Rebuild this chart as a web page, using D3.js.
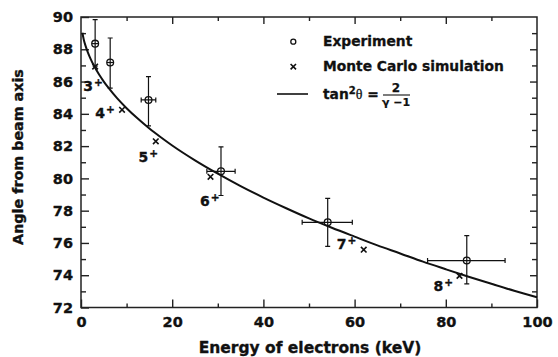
<!DOCTYPE html>
<html>
<head>
<meta charset="utf-8">
<script src="https://cdn.jsdelivr.net/npm/d3@7"></script>
<style>
  body { margin: 0; background: #fff; }
  svg { display: block; }
</style>
</head>
<body>
<svg id="chart" width="558" height="357"></svg>
<script>
/* Experiment: angle vs electron energy, with error ranges */
const expEnergy = [3.1, 6.4, 14.8, 30.7, 54.1, 84.6]
const expEnergyLo = [2.4, 5.7, 13.2, 27.6, 48.5, 76.0]
const expEnergyHi = [3.8, 7.1, 16.4, 33.8, 59.5, 93.0]
const expAngle = [88.35, 87.18, 84.86, 80.44, 77.28, 74.91]
const expAngleLo = [86.95, 85.59, 83.26, 78.94, 75.79, 73.46]
const expAngleHi = [89.84, 88.7, 86.31, 81.95, 78.76, 76.45]

/* Monte Carlo simulation */
const mcEnergy = [3.1, 9.0, 16.4, 28.4, 62.0, 83.0]
const mcAngle = [86.93, 84.25, 82.3, 80.1, 75.58, 73.96]

/* tan^2(theta) = 2/(gamma-1) curve */
const curveEnergy = [0.3, 0.6, 1, 1.5, 2, 3, 4, 5, 6, 8, 10, 12.5, 15, 17.5, 20, 25, 30, 35, 40, 45, 50, 55, 60, 65, 70, 75, 80, 85, 90, 95, 100]
const curveAngle = [89.02, 88.61, 88.21, 87.81, 87.47, 86.9, 86.42, 86.0, 85.62, 84.94, 84.35, 83.69, 83.09, 82.55, 82.04, 81.12, 80.29, 79.52, 78.81, 78.15, 77.52, 76.94, 76.39, 75.85, 75.35, 74.84, 74.37, 73.91, 73.47, 73.04, 72.64]

/* charge state labels */
const chargeLabels = ["3", "4", "5", "6", "7", "8"]
const chargeEnergy = [0.5, 3.1, 12.6, 26.1, 56.1, 77.3]
const chargeAngle = [85.42, 83.72, 81.02, 78.28, 75.6, 73.04]

/* ticks */
const xMajorTicks = [0, 20, 40, 60, 80, 100]
const xMinorTicks = [10, 30, 50, 70, 90]
const yMajorTicks = [72, 74, 76, 78, 80, 82, 84, 86, 88, 90]
const yMinorTicks = [73, 75, 77, 79, 81, 83, 85, 87, 89]

const legendLabels = ["Experiment", "Monte Carlo simulation"]

/* Chart dimensions */
const width = 558
const height = 357
const marginTop = 17
const marginRight = 21
const marginBottom = 49.5
const marginLeft = 81
const font = "'DejaVu Sans', sans-serif"
const ink = "#111"

const svg = d3.select("#chart")
const x = d3.scaleLinear([0, 100], [marginLeft, width - marginRight])
const y = d3.scaleLinear([72, 90], [height - marginBottom, marginTop])

/* bold scanned-looking text: fill plus a thin stroke */
function heavy(sel, w) {
  sel.attr("fill", ink)
  .attr("stroke", ink)
  .attr("stroke-width", w ?? 0.35)
  .attr("stroke-linejoin", "round")
}

/* frame */
svg.append("rect")
.attr("x", marginLeft)
.attr("y", marginTop)
.attr("width", width - marginLeft - marginRight)
.attr("height", height - marginTop - marginBottom)
.attr("fill", "none")
.attr("stroke", "#222")
.attr("stroke-width", 1.5)

function styleAxis(g) {
  g.select(".domain").remove()
  g.selectAll(".tick line").attr("stroke", "#222").attr("stroke-width", 1.4)
  g.selectAll(".tick text")
  .style("font", `bold 14.5px ${font}`)
  .call(heavy)
}

/* bottom axis */
svg.append("g")
.attr("transform", `translate(0,${height - marginBottom})`)
.call(d3.axisBottom(x).tickValues(xMajorTicks).tickSizeInner(-8).tickSizeOuter(0).tickPadding(9))
.call(styleAxis)
svg.append("g")
.attr("transform", `translate(0,${height - marginBottom})`)
.call(d3.axisBottom(x).tickValues(xMinorTicks).tickFormat("").tickSizeInner(-4).tickSizeOuter(0))
.call(styleAxis)

/* top axis */
svg.append("g")
.attr("transform", `translate(0,${marginTop})`)
.call(d3.axisTop(x).tickValues(xMajorTicks.slice(1, -1)).tickFormat("").tickSizeInner(-7).tickSizeOuter(0))
.call(styleAxis)
svg.append("g")
.attr("transform", `translate(0,${marginTop})`)
.call(d3.axisTop(x).tickValues(xMinorTicks).tickFormat("").tickSizeInner(-4).tickSizeOuter(0))
.call(styleAxis)

/* left axis */
svg.append("g")
.attr("transform", `translate(${marginLeft},0)`)
.call(d3.axisLeft(y).tickValues(yMajorTicks).tickSizeInner(-8).tickSizeOuter(0).tickPadding(8))
.call(styleAxis)
svg.append("g")
.attr("transform", `translate(${marginLeft},0)`)
.call(d3.axisLeft(y).tickValues(yMinorTicks).tickFormat("").tickSizeInner(-5).tickSizeOuter(0))
.call(styleAxis)

/* right axis */
svg.append("g")
.attr("transform", `translate(${width - marginRight},0)`)
.call(d3.axisRight(y).tickValues(yMajorTicks.slice(1, -1)).tickFormat("").tickSizeInner(-7).tickSizeOuter(0))
.call(styleAxis)
svg.append("g")
.attr("transform", `translate(${width - marginRight},0)`)
.call(d3.axisRight(y).tickValues(yMinorTicks).tickFormat("").tickSizeInner(-5).tickSizeOuter(0))
.call(styleAxis)

/* axis titles */
svg.append("text")
.attr("x", (marginLeft + width - marginRight) / 2 + 1)
.attr("y", 353)
.attr("text-anchor", "middle")
.style("font", `bold 15.5px ${font}`)
.call(heavy)
.text("Energy of electrons (keV)")

svg.append("text")
.attr("transform", "translate(22.5,157) rotate(-90)")
.attr("text-anchor", "middle")
.style("font", `bold 14.3px ${font}`)
.call(heavy)
.text("Angle from beam axis")

/* theory curve */
const line = d3.line()
.x(d => x(d[0]))
.y(d => y(d[1]))
.curve(d3.curveMonotoneX)

svg.append("path")
.attr("fill", "none")
.attr("stroke", ink)
.attr("stroke-width", 2)
.attr("d", line(curveEnergy.map((e, i) => [e, curveAngle[i]])))

/* experiment error bars and markers */
const cap = 2.5
const expG = svg.append("g")
.attr("stroke", ink)
.attr("stroke-width", 1.2)
.attr("fill", "none")
.selectAll("g")
.data(expEnergy.map((e, i) => i))
.join("g")

expG.append("path")
.attr("d", i => {
  const cx = x(expEnergy[i]), t = y(expAngleHi[i]), b = y(expAngleLo[i])
  return `M${cx},${t}V${b}M${cx - cap},${t}H${cx + cap}M${cx - cap},${b}H${cx + cap}`
})
expG.append("path")
.attr("d", i => {
  const cy = y(expAngle[i]), l = x(expEnergyLo[i]), r = x(expEnergyHi[i])
  const caps = r - l > 8 ? `M${l},${cy - cap}V${cy + cap}M${r},${cy - cap}V${cy + cap}` : ""
  return `M${l},${cy}H${r}` + caps
})
expG.append("circle")
.attr("cx", i => x(expEnergy[i]))
.attr("cy", i => y(expAngle[i]))
.attr("r", 3.4)
.attr("stroke-width", 1.3)

/* Monte Carlo markers */
const xs = 2.8
svg.append("g")
.attr("stroke", ink)
.attr("stroke-width", 1.6)
.selectAll("path")
.data(mcEnergy.map((e, i) => i))
.join("path")
.attr("d", i => {
  const cx = x(mcEnergy[i]), cy = y(mcAngle[i])
  return `M${cx - xs},${cy - xs}L${cx + xs},${cy + xs}M${cx - xs},${cy + xs}L${cx + xs},${cy - xs}`
})

/* charge state labels */
const lab = svg.append("g")
.selectAll("text")
.data(chargeLabels)
.join("text")
.attr("x", (d, i) => x(chargeEnergy[i]))
.attr("y", (d, i) => y(chargeAngle[i]))
.style("font", `bold 14px ${font}`)
.call(heavy)
lab.append("tspan").text(d => d)
lab.append("tspan")
.attr("dy", -5)
.attr("dx", 1)
.attr("fill", ink)
.style("font-size", "10.5px")
.text("+")

/* legend */
const legend = svg.append("g")
legend.append("circle")
.attr("cx", 293.3)
.attr("cy", 41.7)
.attr("r", 2.5)
.attr("fill", "none")
.attr("stroke", ink)
.attr("stroke-width", 1.3)
legend.append("path")
.attr("d", "M290.6,64L296,69.4M290.6,69.4L296,64")
.attr("stroke", ink)
.attr("stroke-width", 1.6)
legend.append("path")
.attr("d", "M277,94H308")
.attr("stroke", ink)
.attr("stroke-width", 1.6)

legend.selectAll("text.lbl")
.data(legendLabels)
.join("text")
.attr("class", "lbl")
.attr("x", 323)
.attr("y", (d, i) => 46 + i * 25)
.style("font", `bold 13.8px ${font}`)
.call(heavy, 0.3)
.text(d => d)

const formula = legend.append("text")
.attr("x", 323)
.attr("y", 99)
.style("font", `bold 13.8px ${font}`)
.call(heavy, 0.3)
formula.append("tspan").text("tan")
formula.append("tspan").attr("dy", -5).style("font-size", "10px").text("2")
formula.append("tspan").attr("dy", 5).style("font-weight", "normal").style("font-family", "'Liberation Serif', serif").style("font-size", "14px").text("θ")
formula.append("tspan").text(" =")

legend.append("text")
.attr("x", 396)
.attr("y", 92)
.attr("text-anchor", "middle")
.style("font", `bold 12px ${font}`)
.call(heavy, 0.25)
.text("2")
legend.append("path")
.attr("d", "M383,95H410")
.attr("stroke", ink)
.attr("stroke-width", 1.1)
legend.append("text")
.attr("x", 396)
.attr("y", 106)
.attr("text-anchor", "middle")
.style("font", `bold 11px ${font}`)
.call(heavy, 0.2)
.text("γ −1")
</script>
</body>
</html>
